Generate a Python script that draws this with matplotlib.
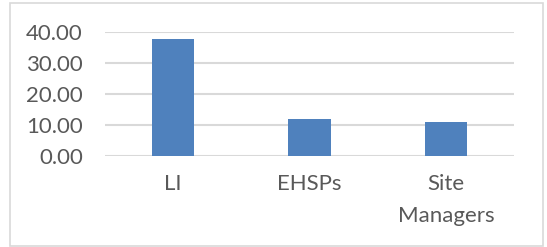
import matplotlib.pyplot as plt
from matplotlib.patches import Rectangle

categories = ['LI', 'EHSPs', 'Site\nManagers']
values = [37.6, 11.9, 10.8]
yticks = [0, 10, 20, 30, 40]

plt.rcParams['font.family'] = ['Lato', 'DejaVu Sans']

fig = plt.figure(figsize=(5.47, 2.47), dpi=100)
# light grey frame round the chart
fig.patches.append(Rectangle((10/547, 1 - 246/247), 533/547, 243/247,
                             transform=fig.transFigure, fill=False,
                             edgecolor='#d9d9d9', linewidth=1.2))

ax = fig.add_axes([105/547, 1 - 155.7/247, 409/547, 123.7/247])
x = range(len(categories))
ax.bar(x, values, width=0.31, color='#4f81bd', zorder=3)

ax.set_ylim(0, 40)
ax.set_xlim(-0.5, len(categories) - 0.5)
ax.set_yticks(yticks)
ax.set_yticklabels(['%.2f' % v for v in yticks])
ax.set_xticks(list(x))
ax.set_xticklabels(categories, linespacing=1.75)
ax.yaxis.grid(True, color='#d9d9d9', linewidth=1.5, zorder=0)
for s in ax.spines.values():
    s.set_visible(False)
ax.tick_params(axis='both', length=0, labelsize=16, labelcolor='#595959')
ax.tick_params(axis='y', pad=16)
ax.tick_params(axis='x', pad=13)

plt.savefig('out.png', dpi=100)
